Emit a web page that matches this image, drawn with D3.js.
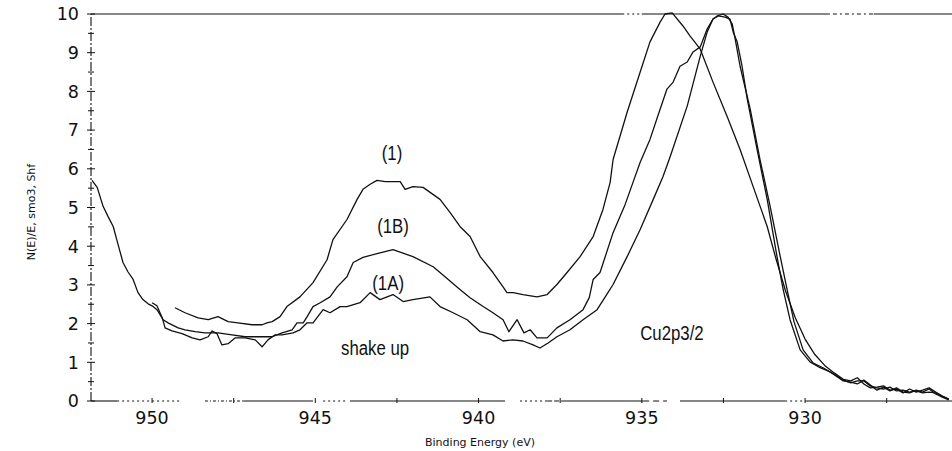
<!DOCTYPE html>
<html>
<head>
<meta charset="utf-8">
<script src="https://cdn.jsdelivr.net/npm/d3@7"></script>
<style>
  body { margin: 0; background: #fff; }
  svg { display: block; }
</style>
</head>
<body>
<div id="chart"></div>
<script>
/**
 * DATA (binding energy in eV, intensity in N(E)/E units)
 * */
const curve1 = [
  [949.30,2.41],[948.99,2.28],[948.59,2.15],[948.28,2.10],[947.98,2.18],[947.67,2.05],[947.37,2.02],
  [946.94,1.97],[946.63,1.97],[946.48,2.02],[946.32,2.05],[946.08,2.18],[945.87,2.44],[945.47,2.69],
  [945.07,3.06],[944.64,3.65],[944.46,4.17],[944.03,4.69],[943.72,5.21],[943.54,5.47],[943.32,5.60],
  [943.11,5.70],[942.86,5.67],[942.40,5.67],[942.25,5.47],[942.01,5.54],[941.70,5.52],[941.18,5.21],
  [940.87,4.87],[940.57,4.51],[940.26,4.25],[939.95,3.73],[939.56,3.32],[939.25,2.95],[939.13,2.80],
  [938.94,2.80],[938.64,2.75],[938.21,2.69],[937.90,2.75],[937.60,3.01],[937.29,3.32],[936.89,3.73],
  [936.49,4.25],[936.19,4.95],[935.97,5.65],[935.88,6.24],[935.45,7.46],[935.05,8.50],[934.75,9.28],
  [934.44,9.79],[934.29,10.00],[934.07,10.03],[933.74,9.69],[933.52,9.43],[933.21,9.09],[932.82,8.24],
  [932.39,7.36],[931.99,6.50],[931.59,5.54],[931.16,4.51],[930.90,3.70],[930.60,2.85],[930.30,2.15],
  [930.00,1.60],[929.70,1.20],[929.40,0.92],[929.10,0.72],[928.83,0.56]
];

const curve1B = [
  [951.84,5.70],[951.68,5.52],[951.50,5.03],[951.35,4.77],[951.19,4.51],[951.04,4.04],[950.89,3.58],
  [950.74,3.34],[950.58,3.14],[950.43,2.80],[950.28,2.62],[950.12,2.51],[950.00,2.46],[949.85,2.36],
  [949.66,2.10],[949.51,2.02],[949.20,1.89],[948.99,1.84],[948.68,1.79],[948.38,1.76],[947.98,1.76],
  [947.55,1.71],[947.15,1.66],[946.75,1.66],[946.32,1.66],[946.02,1.76],[945.71,1.84],[945.56,2.02],
  [945.37,2.02],[945.25,2.18],[945.07,2.44],[944.85,2.54],[944.55,2.69],[944.33,2.95],[944.03,3.21],
  [943.84,3.58],[943.54,3.71],[943.02,3.83],[942.62,3.91],[942.01,3.73],[941.39,3.47],[941.00,3.19],
  [940.57,2.88],[940.26,2.67],[939.86,2.44],[939.56,2.28],[939.25,2.10],[939.07,1.79],[938.82,2.10],
  [938.61,1.76],[938.42,1.84],[938.21,1.63],[937.90,1.63],[937.60,1.89],[937.20,2.10],[936.80,2.36],
  [936.61,2.67],[936.49,3.14],[936.28,3.32],[935.88,4.35],[935.51,5.08],[935.27,5.65],[935.05,6.17],
  [934.75,6.76],[934.44,7.54],[934.23,8.06],[934.04,8.24],[933.83,8.65],[933.61,8.76],[933.43,9.02],
  [933.21,9.15],[933.00,9.61],[932.82,9.87],[932.66,9.95],[932.45,9.92],[932.30,9.87],[932.20,9.53],
  [932.08,9.28],[931.93,8.65],[931.77,7.80],[931.47,6.50],[931.16,5.21],[930.86,3.73],[930.67,2.88],
  [930.46,2.10],[930.15,1.32],[929.85,1.01],[929.54,0.86],[929.23,0.75],[928.83,0.54]
];

const curve1A = [
  [950.00,2.54],[949.85,2.46],[949.69,2.15],[949.60,1.89],[949.39,1.81],[949.08,1.74],[948.77,1.63],
  [948.53,1.58],[948.28,1.66],[948.16,1.81],[948.01,1.74],[947.86,1.45],[947.67,1.48],[947.46,1.63],
  [947.15,1.63],[946.84,1.58],[946.63,1.40],[946.45,1.58],[946.23,1.71],[946.02,1.71],[945.68,1.76],
  [945.47,1.84],[945.25,2.02],[945.07,2.02],[944.76,2.36],[944.55,2.28],[944.24,2.44],[944.03,2.44],
  [943.63,2.54],[943.32,2.80],[943.02,2.62],[942.62,2.75],[942.31,2.57],[942.01,2.62],[941.49,2.69],
  [941.18,2.44],[940.78,2.28],[940.35,2.10],[939.95,1.79],[939.56,1.71],[939.25,1.55],[938.94,1.58],
  [938.64,1.55],[938.33,1.45],[938.12,1.37],[937.87,1.50],[937.60,1.66],[937.20,1.84],[936.80,2.10],
  [936.37,2.36],[936.12,2.69],[935.88,3.01],[935.45,3.73],[935.05,4.43],[934.65,5.21],[934.35,5.80],
  [934.13,6.32],[933.61,7.62],[933.21,8.91],[933.00,9.53],[932.82,9.87],[932.69,9.95],[932.51,10.00],
  [932.36,9.92],[932.23,9.74],[932.14,9.35],[931.99,8.65],[931.68,7.54],[931.38,6.24],[931.07,5.03],
  [930.76,3.73],[930.55,2.88],[930.34,2.05],[930.06,1.32],[929.75,0.98],[929.45,0.86],[929.14,0.70],
  [928.83,0.52]
];

// noisy tails beyond the main line
const tailEnergy = [928.6,928.4,928.2,928.0,927.8,927.6,927.4,927.2,927.0,926.8,926.6,926.4,926.2,926.0,925.8,925.6];
const tail1  = [0.52,0.60,0.44,0.34,0.36,0.39,0.28,0.31,0.21,0.31,0.23,0.28,0.34,0.23,0.13,0.05];
const tail1B = [0.47,0.52,0.52,0.39,0.34,0.31,0.36,0.26,0.28,0.23,0.26,0.21,0.23,0.21,0.13,0.05];
const tail1A = [0.49,0.44,0.54,0.41,0.28,0.36,0.26,0.34,0.23,0.21,0.28,0.23,0.31,0.18,0.10,0.03];

const xTickLabels = [950, 945, 940, 935, 930];
const xTicks = [950, 947.5, 945, 942.5, 940, 937.5, 935, 932.5, 930, 927.5];
const yTickLabels = [0,1,2,3,4,5,6,7,8,9,10];

const notes = [
  { text: "(1)", e: 942.65, v: 6.23, anchor: "middle" },
  { text: "(1B)", e: 942.62, v: 4.34, anchor: "middle" },
  { text: "(1A)", e: 942.77, v: 2.87, anchor: "middle" },
  { text: "shake up", e: 943.17, v: 1.19, anchor: "middle" },
  { text: "Cu2p3/2", e: 935.05, v: 1.58, anchor: "start" }
];

/**
 * CONSTANTS
 * */
const width = 952, height = 451;
const eLeft = 951.87, eRight = 925.5;

const x = d3.scaleLinear().domain([eLeft, eRight]).range([91, 952]);
const y = d3.scaleLinear().domain([0, 10]).range([401, 14]);

const ink = "#111";

// the old plotter axis is broken in places: [from eV, to eV, dash]
const bottomPieces = [
  [951.87, 951.07, null], [951.07, 949.14, "2,3"], [948.38, 947.21, "3,2,1,2"],
  [947.21, 945.07, null], [944.76, 944.03, "2,3"], [943.94, 939.19, null],
  [938.73, 937.90, "2,3"], [937.90, 937.44, "5,2"], [937.44, 934.96, null],
  [934.96, 934.23, "6,4"], [933.83, 930.61, null], [930.61, 929.97, "2,3"],
  [929.97, 925.5, null]
];
const topPieces = [
  [951.87, 935.60, null], [935.60, 935.00, "2,3"], [935.00, 929.30, null],
  [929.30, 927.90, "2,3,4,3"], [927.90, 925.5, null]
];

const svg = d3.select("#chart").append("svg")
  .attr("width", width)
  .attr("height", height);

function drawPieces(pieces, v) {
  svg.append("g").selectAll("line").data(pieces).join("line")
    .attr("x1", d => x(d[0])).attr("x2", d => x(d[1]))
    .attr("y1", y(v)).attr("y2", y(v))
    .attr("stroke", ink).attr("stroke-width", 1.1)
    .attr("stroke-dasharray", d => d[2]);
}
drawPieces(bottomPieces, 0);
drawPieces(topPieces, 10);

svg.append("line")
  .attr("x1", x(eLeft)).attr("x2", x(eLeft))
  .attr("y1", y(0)).attr("y2", y(10))
  .attr("stroke", ink).attr("stroke-width", 1.1)
  .attr("stroke-dasharray", "9,2,2,2");

// x ticks
svg.selectAll(".xtick").data(xTicks).join("line")
  .attr("class", "xtick")
  .attr("x1", d => x(d)).attr("x2", d => x(d))
  .attr("y1", y(0) - 3).attr("y2", y(0) + 2)
  .attr("stroke", ink).attr("stroke-width", 1);

svg.selectAll(".xlab").data(xTickLabels).join("text")
  .attr("class", "xlab")
  .attr("x", d => x(d))
  .attr("y", y(0) + 23)
  .attr("text-anchor", "middle")
  .attr("font-family", "DejaVu Sans, sans-serif")
  .attr("font-size", 17.5)
  .attr("fill", ink)
  .text(d => d);

// y ticks
svg.selectAll(".ytick").data(yTickLabels).join("line")
  .attr("class", "ytick")
  .attr("x1", x(eLeft) - 4).attr("x2", x(eLeft) + 4)
  .attr("y1", d => y(d)).attr("y2", d => y(d))
  .attr("stroke", ink).attr("stroke-width", 1);

svg.selectAll(".yhalf").data(yTickLabels.slice(0, 10)).join("line")
  .attr("class", "yhalf")
  .attr("x1", x(eLeft) - 3).attr("x2", x(eLeft) + 3)
  .attr("y1", d => y(d + 0.5)).attr("y2", d => y(d + 0.5))
  .attr("stroke", ink).attr("stroke-width", 1);

svg.selectAll(".ylab").data(yTickLabels).join("text")
  .attr("class", "ylab")
  .attr("x", x(eLeft) - 12)
  .attr("y", d => y(d))
  .attr("dy", "0.36em")
  .attr("text-anchor", "end")
  .attr("font-family", "DejaVu Sans, sans-serif")
  .attr("font-size", 17.5)
  .attr("fill", ink)
  .text(d => d);

// axis titles
svg.append("text")
  .attr("x", 480).attr("y", 446)
  .attr("text-anchor", "middle")
  .attr("font-family", "DejaVu Sans, sans-serif")
  .attr("font-size", 11)
  .attr("fill", ink)
  .text("Binding Energy (eV)");

svg.append("text")
  .attr("transform", "translate(35,212) rotate(-90)")
  .attr("text-anchor", "middle")
  .attr("font-family", "DejaVu Sans, sans-serif")
  .attr("font-size", 11)
  .attr("fill", ink)
  .text("N(E)/E, smo3, Shf");

// spectra
const line = d3.line()
  .x(d => x(d[0]))
  .y(d => y(d[1]));

const withTail = (main, tail) => main.concat(tailEnergy.map((e, i) => [e, tail[i]]));

const spectra = [
  withTail(curve1, tail1),
  withTail(curve1B, tail1B),
  withTail(curve1A, tail1A)
];

svg.selectAll(".spec").data(spectra).join("path")
  .attr("class", "spec")
  .attr("d", line)
  .attr("fill", "none")
  .attr("stroke", ink)
  .attr("stroke-width", 1.3)
  .attr("stroke-linejoin", "round");

// annotations, narrow lettering
svg.selectAll(".note").data(notes).join("text")
  .attr("class", "note")
  .attr("transform", d => `translate(${x(d.e)},${y(d.v)}) scale(0.8,1)`)
  .attr("text-anchor", d => d.anchor)
  .attr("font-family", "Liberation Sans, Arial, sans-serif")
  .attr("font-size", 21)
  .attr("fill", ink)
  .text(d => d.text);
</script>
</body>
</html>
